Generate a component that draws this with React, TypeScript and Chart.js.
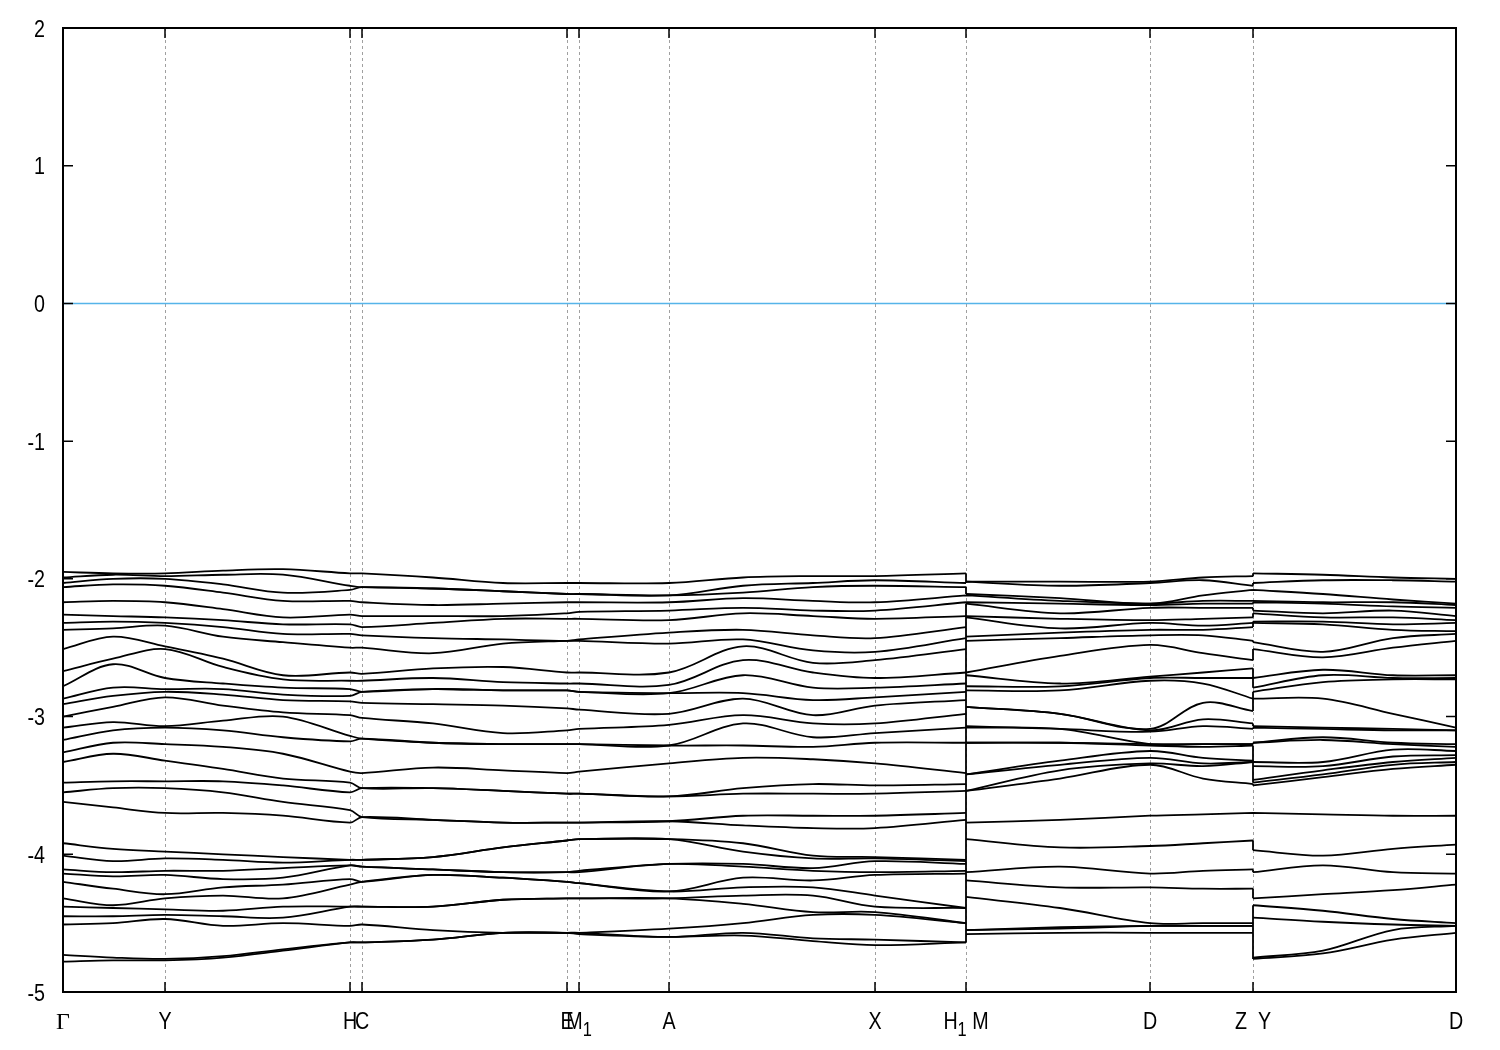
import React, { useEffect, useRef } from "react";
import { Chart, registerables } from "chart.js";

Chart.register(...registerables);

// High-symmetry k-points along the path (k-path distance); "_x" marks a subscript
const kTicks = [0, 0.102, 0.287, 0.299, 0.504, 0.516, 0.606, 0.812, 0.903, 1.087, 1.19, 1.393];
const kTickLabels = ["Γ", "Y", "H", "C", "E", "M_1", "A", "X", "H_1 M", "D", "Z  Y", "D"];

// Energy axis
const yMin = -5;
const yMax = 2;
const yStep = 1;

// Sampled k positions (H1|M and Z|Y are discontinuities)
const kPoints = [
  0, 0.05, 0.102, 0.16, 0.22, 0.287, 0.299, 0.37, 0.44, 0.504, 0.516, 0.606, 0.68, 0.75, 0.812,
  0.903, 0.903, 0.997, 1.087, 1.14, 1.19, 1.19, 1.26, 1.33, 1.393,
];

// Band energies (eV) at each sampled k position, sorted from top to bottom
const eGamma = [-1.95,-1.99,-2.03,-2.06,-2.17,-2.26,-2.32,-2.37,-2.51,-2.67,-2.78,-2.87,-2.91,-3.00,-3.08,-3.17,-3.26,-3.33,-3.48,-3.55,-3.62,-3.92,-4.01,-4.11,-4.14,-4.20,-4.32,-4.38,-4.45,-4.51,-4.73,-4.78];
const eK1 = [-1.96,-1.97,-2.00,-2.04,-2.16,-2.27,-2.31,-2.36,-2.42,-2.58,-2.62,-2.79,-2.85,-2.93,-3.04,-3.10,-3.19,-3.27,-3.47,-3.52,-3.66,-3.96,-4.05,-4.13,-4.16,-4.25,-4.37,-4.39,-4.45,-4.50,-4.75,-4.77];
const eY = [-1.96,-1.98,-2.00,-2.05,-2.17,-2.28,-2.32,-2.34,-2.49,-2.51,-2.72,-2.80,-2.82,-2.86,-3.07,-3.08,-3.20,-3.32,-3.47,-3.52,-3.70,-3.98,-4.03,-4.12,-4.15,-4.29,-4.32,-4.40,-4.44,-4.47,-4.76,-4.77];
const eK3 = [-1.94,-1.97,-2.04,-2.10,-2.22,-2.30,-2.35,-2.42,-2.58,-2.64,-2.76,-2.80,-2.84,-2.92,-3.03,-3.10,-3.22,-3.38,-3.47,-3.55,-3.70,-4.00,-4.04,-4.12,-4.18,-4.24,-4.30,-4.41,-4.45,-4.52,-4.74,-4.75];
const eK4 = [-1.93,-1.97,-2.10,-2.16,-2.28,-2.33,-2.40,-2.46,-2.70,-2.73,-2.79,-2.84,-2.88,-2.97,-3.00,-3.15,-3.27,-3.45,-3.50,-3.62,-3.72,-4.02,-4.06,-4.10,-4.17,-4.22,-4.32,-4.38,-4.46,-4.50,-4.69,-4.70];
const eH = [-1.96,-2.05,-2.08,-2.16,-2.26,-2.33,-2.40,-2.50,-2.68,-2.74,-2.80,-2.85,-2.89,-2.99,-3.14,-3.18,-3.40,-3.48,-3.55,-3.68,-3.77,-4.04,-4.04,-4.08,-4.08,-4.18,-4.22,-4.38,-4.38,-4.52,-4.64,-4.64];
const eC = [-1.96,-2.06,-2.06,-2.17,-2.27,-2.35,-2.41,-2.50,-2.69,-2.74,-2.82,-2.82,-2.90,-3.01,-3.16,-3.16,-3.41,-3.52,-3.52,-3.73,-3.73,-4.04,-4.04,-4.09,-4.09,-4.20,-4.20,-4.38,-4.38,-4.51,-4.64,-4.64];
const eK7 = [-1.99,-2.07,-2.07,-2.19,-2.27,-2.32,-2.43,-2.54,-2.65,-2.72,-2.80,-2.80,-2.91,-3.05,-3.19,-3.19,-3.37,-3.52,-3.52,-3.75,-3.75,-4.02,-4.02,-4.11,-4.11,-4.15,-4.15,-4.38,-4.38,-4.55,-4.62,-4.62];
const eK8 = [-2.03,-2.09,-2.09,-2.18,-2.27,-2.29,-2.44,-2.47,-2.64,-2.75,-2.81,-2.81,-2.92,-3.12,-3.20,-3.20,-3.39,-3.54,-3.54,-3.77,-3.77,-3.95,-3.95,-4.13,-4.13,-4.17,-4.17,-4.33,-4.33,-4.57,-4.57,-4.57];
const eE = [-2.03,-2.11,-2.11,-2.17,-2.25,-2.29,-2.45,-2.45,-2.68,-2.76,-2.81,-2.81,-2.94,-3.10,-3.20,-3.20,-3.41,-3.56,-3.56,-3.77,-3.77,-3.90,-3.90,-4.13,-4.13,-4.20,-4.20,-4.32,-4.32,-4.57,-4.57,-4.57];
const eM1 = [-2.03,-2.11,-2.11,-2.17,-2.24,-2.29,-2.44,-2.45,-2.68,-2.76,-2.82,-2.82,-2.95,-3.09,-3.20,-3.20,-3.40,-3.56,-3.56,-3.77,-3.77,-3.89,-3.89,-4.12,-4.13,-4.21,-4.21,-4.32,-4.32,-4.57,-4.57,-4.58];
const eA = [-2.03,-2.12,-2.12,-2.17,-2.23,-2.30,-2.39,-2.47,-2.68,-2.77,-2.83,-2.83,-2.98,-3.06,-3.21,-3.21,-3.34,-3.58,-3.58,-3.76,-3.76,-3.89,-3.89,-4.07,-4.07,-4.27,-4.27,-4.32,-4.32,-4.54,-4.60,-4.60];
const eK12 = [-1.99,-2.05,-2.10,-2.14,-2.21,-2.25,-2.37,-2.44,-2.49,-2.59,-2.70,-2.83,-2.87,-2.99,-3.05,-3.21,-3.30,-3.52,-3.56,-3.72,-3.79,-3.92,-3.98,-4.07,-4.09,-4.17,-4.24,-4.30,-4.36,-4.50,-4.57,-4.59];
const eK13 = [-1.98,-2.03,-2.06,-2.16,-2.23,-2.27,-2.41,-2.52,-2.61,-2.68,-2.79,-2.88,-2.99,-3.05,-3.15,-3.22,-3.31,-3.49,-3.56,-3.72,-3.81,-4.01,-4.03,-4.10,-4.12,-4.19,-4.24,-4.30,-4.42,-4.44,-4.61,-4.63];
const eX = [-1.98,-2.01,-2.05,-2.17,-2.23,-2.29,-2.43,-2.53,-2.59,-2.72,-2.79,-2.86,-2.92,-3.05,-3.12,-3.19,-3.34,-3.50,-3.56,-3.72,-3.81,-4.02,-4.03,-4.05,-4.13,-4.15,-4.30,-4.38,-4.42,-4.44,-4.62,-4.66];
const eH1 = [-1.96,-2.03,-2.06,-2.12,-2.17,-2.27,-2.35,-2.43,-2.51,-2.68,-2.76,-2.82,-2.88,-2.98,-3.08,-3.19,-3.41,-3.49,-3.54,-3.70,-3.75,-4.04,-4.05,-4.07,-4.12,-4.14,-4.39,-4.39,-4.50,-4.50,-4.64,-4.64];
const eM = [-2.02,-2.02,-2.11,-2.12,-2.17,-2.18,-2.27,-2.28,-2.42,-2.45,-2.68,-2.70,-2.78,-2.81,-2.93,-2.93,-3.07,-3.08,-3.19,-3.19,-3.42,-3.42,-3.54,-3.54,-3.77,-3.89,-4.13,-4.19,-4.31,-4.55,-4.55,-4.58];
const eK17 = [-2.02,-2.05,-2.14,-2.16,-2.18,-2.25,-2.29,-2.36,-2.39,-2.43,-2.56,-2.76,-2.78,-2.81,-2.98,-2.98,-3.09,-3.09,-3.19,-3.19,-3.32,-3.35,-3.39,-3.45,-3.75,-3.95,-4.09,-4.24,-4.39,-4.53,-4.54,-4.57];
const eD = [-2.02,-2.03,-2.18,-2.18,-2.19,-2.21,-2.30,-2.32,-2.37,-2.41,-2.48,-2.71,-2.72,-2.74,-3.09,-3.10,-3.11,-3.20,-3.20,-3.21,-3.25,-3.30,-3.34,-3.35,-3.72,-3.94,-4.14,-4.24,-4.50,-4.52,-4.52,-4.57];
const eK19 = [-1.99,-2.01,-2.12,-2.16,-2.18,-2.21,-2.29,-2.34,-2.37,-2.41,-2.54,-2.68,-2.72,-2.76,-2.90,-3.02,-3.07,-3.20,-3.20,-3.22,-3.30,-3.34,-3.36,-3.45,-3.71,-3.92,-4.12,-4.25,-4.50,-4.52,-4.52,-4.57];
const eZ = [-1.98,-2.05,-2.08,-2.16,-2.18,-2.21,-2.28,-2.32,-2.35,-2.45,-2.59,-2.65,-2.72,-2.87,-2.96,-3.05,-3.09,-3.20,-3.20,-3.21,-3.32,-3.33,-3.33,-3.49,-3.70,-3.90,-4.11,-4.25,-4.50,-4.52,-4.52,-4.57];
const eY2 = [-1.96,-2.03,-2.08,-2.16,-2.17,-2.23,-2.25,-2.31,-2.32,-2.46,-2.51,-2.72,-2.79,-2.82,-2.87,-3.07,-3.08,-3.19,-3.19,-3.33,-3.36,-3.46,-3.48,-3.50,-3.70,-3.97,-4.13,-4.32,-4.37,-4.46,-4.75,-4.76];
const eK22 = [-1.97,-2.01,-2.11,-2.17,-2.18,-2.25,-2.28,-2.31,-2.33,-2.53,-2.57,-2.66,-2.70,-2.75,-2.87,-3.08,-3.09,-3.15,-3.17,-3.33,-3.36,-3.39,-3.42,-3.44,-3.71,-4.01,-4.08,-4.29,-4.41,-4.49,-4.70,-4.72];
const eK23 = [-1.99,-2.01,-2.15,-2.17,-2.20,-2.23,-2.28,-2.33,-2.37,-2.43,-2.50,-2.70,-2.72,-2.73,-2.98,-3.09,-3.10,-3.19,-3.20,-3.24,-3.29,-3.33,-3.35,-3.38,-3.72,-3.96,-4.13,-4.26,-4.47,-4.51,-4.55,-4.62];
const eD2 = [-2.00,-2.02,-2.18,-2.19,-2.21,-2.27,-2.30,-2.32,-2.38,-2.40,-2.45,-2.70,-2.72,-2.73,-3.08,-3.10,-3.10,-3.20,-3.22,-3.25,-3.28,-3.30,-3.33,-3.35,-3.72,-3.93,-4.14,-4.22,-4.50,-4.52,-4.52,-4.57];

const energyColumns = [
  eGamma, eK1, eY, eK3, eK4, eH, eC, eK7, eK8, eE, eM1, eA, eK12, eK13, eX,
  eH1, eM, eK17, eD, eK19, eZ, eY2, eK22, eK23, eD2,
];

// Fermi level
const fermiLevel = [0, 0];

const SANS = '"Liberation Sans", Arial, sans-serif';
const SERIF = '"Liberation Serif", "DejaVu Serif", serif';
const FONT_SIZE = 24;
const SUB_SIZE = 20;
const SX = 0.82; // narrow-face emulation

function parseLabel(label: string) {
  const parts: { t: string; sub: boolean }[] = [];
  for (let i = 0; i < label.length; i++) {
    const ch = label[i];
    if (ch === "_" && i + 1 < label.length) {
      parts.push({ t: label[i + 1], sub: true });
      i++;
    } else {
      const last = parts[parts.length - 1];
      if (last && !last.sub) last.t += ch;
      else parts.push({ t: ch, sub: false });
    }
  }
  return parts;
}

function partFont(p: { t: string; sub: boolean }) {
  const greek = /[\u0370-\u03FF]/.test(p.t);
  const size = p.sub ? SUB_SIZE : FONT_SIZE;
  return { font: `${size}px ${greek ? SERIF : SANS}`, sx: greek ? 1 : SX };
}

function drawRichText(ctx: CanvasRenderingContext2D, label: string, cx: number, baseline: number) {
  const parts = parseLabel(label);
  const widths = parts.map((p) => {
    const f = partFont(p);
    ctx.font = f.font;
    return ctx.measureText(p.t).width * f.sx;
  });
  const total = widths.reduce((a, b) => a + b, 0);
  let x = cx - total / 2;
  parts.forEach((p, i) => {
    const f = partFont(p);
    ctx.save();
    ctx.font = f.font;
    ctx.textAlign = "left";
    ctx.textBaseline = "alphabetic";
    ctx.translate(x, baseline + (p.sub ? 7 : 0));
    ctx.scale(f.sx, 1);
    ctx.fillText(p.t, 0, 0);
    ctx.restore();
    x += widths[i];
  });
}

export default function App() {
  const canvasRef = useRef<HTMLCanvasElement | null>(null);

  useEffect(() => {
    const canvas = canvasRef.current;
    if (!canvas) return;

    const nBands = eGamma.length;
    const breakStarts = [16, 21];
    const datasets: any[] = [];

    for (let b = 0; b < nBands; b++) {
      const data: any[] = [];
      energyColumns.forEach((col, j) => {
        if (breakStarts.includes(j)) data.push({ x: kPoints[j], y: null });
        data.push({ x: kPoints[j], y: col[b] });
      });
      datasets.push({
        data,
        borderColor: "#000000",
        borderWidth: 1.8,
        pointRadius: 0,
        tension: 0.35,
        fill: false,
        spanGaps: false,
      });
    }

    // vertical connectors at the discontinuities
    const conn: any[] = [];
    [[15, 16], [20, 21]].forEach(([a, c]) => {
      for (let b = 0; b < nBands; b++) {
        conn.push({ x: kPoints[a], y: energyColumns[a][b] });
        conn.push({ x: kPoints[c], y: energyColumns[c][b] });
        conn.push({ x: kPoints[c], y: null });
      }
    });
    datasets.push({
      data: conn,
      borderColor: "#000000",
      borderWidth: 1.8,
      pointRadius: 0,
      tension: 0,
      spanGaps: false,
    });

    datasets.push({
      data: [
        { x: kTicks[0], y: fermiLevel[0] },
        { x: kTicks[kTicks.length - 1], y: fermiLevel[1] },
      ],
      borderColor: "#56b4e9",
      borderWidth: 1.5,
      pointRadius: 0,
      tension: 0,
    });

    const framePlugin = {
      id: "bandframe",
      beforeDatasetsDraw(chart: any) {
        const { ctx, chartArea, scales } = chart;
        ctx.save();
        ctx.strokeStyle = "#a0a0a0";
        ctx.lineWidth = 1;
        ctx.setLineDash([3, 3]);
        kTicks.forEach((v, i) => {
          if (i === 0 || i === kTicks.length - 1) return;
          const x = Math.round(scales.x.getPixelForValue(v)) + 0.5;
          ctx.beginPath();
          ctx.moveTo(x, chartArea.top);
          ctx.lineTo(x, chartArea.bottom);
          ctx.stroke();
        });
        ctx.restore();
      },
      afterDatasetsDraw(chart: any) {
        const { ctx, chartArea, scales } = chart;
        const tl = 10;
        ctx.save();
        ctx.setLineDash([]);
        ctx.strokeStyle = "#000000";
        ctx.lineWidth = 1.5;
        ctx.beginPath();
        kTicks.forEach((v) => {
          const x = scales.x.getPixelForValue(v);
          ctx.moveTo(x, chartArea.bottom);
          ctx.lineTo(x, chartArea.bottom - tl);
          ctx.moveTo(x, chartArea.top);
          ctx.lineTo(x, chartArea.top + tl);
        });
        for (let v = yMin; v <= yMax; v += yStep) {
          const y = scales.y.getPixelForValue(v);
          ctx.moveTo(chartArea.left, y);
          ctx.lineTo(chartArea.left + tl, y);
          ctx.moveTo(chartArea.right, y);
          ctx.lineTo(chartArea.right - tl, y);
        }
        ctx.stroke();
        ctx.lineWidth = 2;
        ctx.strokeRect(chartArea.left, chartArea.top, chartArea.right - chartArea.left, chartArea.bottom - chartArea.top);

        // tick labels
        ctx.fillStyle = "#000000";
        for (let v = yMin; v <= yMax; v += yStep) {
          const y = scales.y.getPixelForValue(v);
          ctx.save();
          ctx.font = `${FONT_SIZE}px ${SANS}`;
          ctx.textAlign = "right";
          ctx.textBaseline = "alphabetic";
          ctx.translate(chartArea.left - 18, y + 8.5);
          ctx.scale(SX, 1);
          ctx.fillText(String(v), 0, 0);
          ctx.restore();
        }
        kTicks.forEach((v, i) => {
          const x = scales.x.getPixelForValue(v);
          drawRichText(ctx, kTickLabels[i], x, chartArea.bottom + 37);
        });
        ctx.restore();
      },
    };

    const chart = new Chart(canvas, {
      type: "line",
      data: { datasets },
      options: {
        responsive: false,
        animation: false,
        events: [],
        layout: { padding: { top: 28, right: 44, left: 0, bottom: 0 } },
        plugins: { legend: { display: false }, tooltip: { enabled: false } },
        scales: {
          x: {
            type: "linear",
            min: kTicks[0],
            max: kTicks[kTicks.length - 1],
            grid: { display: false, drawTicks: false },
            border: { display: false },
            afterBuildTicks: (axis: any) => {
              axis.ticks = kTicks.map((v) => ({ value: v }));
            },
            afterFit: (axis: any) => {
              axis.height = 58;
            },
            ticks: { display: false },
          },
          y: {
            type: "linear",
            min: yMin,
            max: yMax,
            grid: { display: false, drawTicks: false },
            border: { display: false },
            afterFit: (axis: any) => {
              axis.width = 63;
            },
            ticks: { display: false, stepSize: yStep },
          },
        },
      },
      plugins: [framePlugin],
    });

    return () => chart.destroy();
  }, []);

  return (
    <div style={{ position: "absolute", left: 0, top: 0, width: 1500, height: 1050, background: "#ffffff" }}>
      <canvas ref={canvasRef} width={1500} height={1050} />
    </div>
  );
}
